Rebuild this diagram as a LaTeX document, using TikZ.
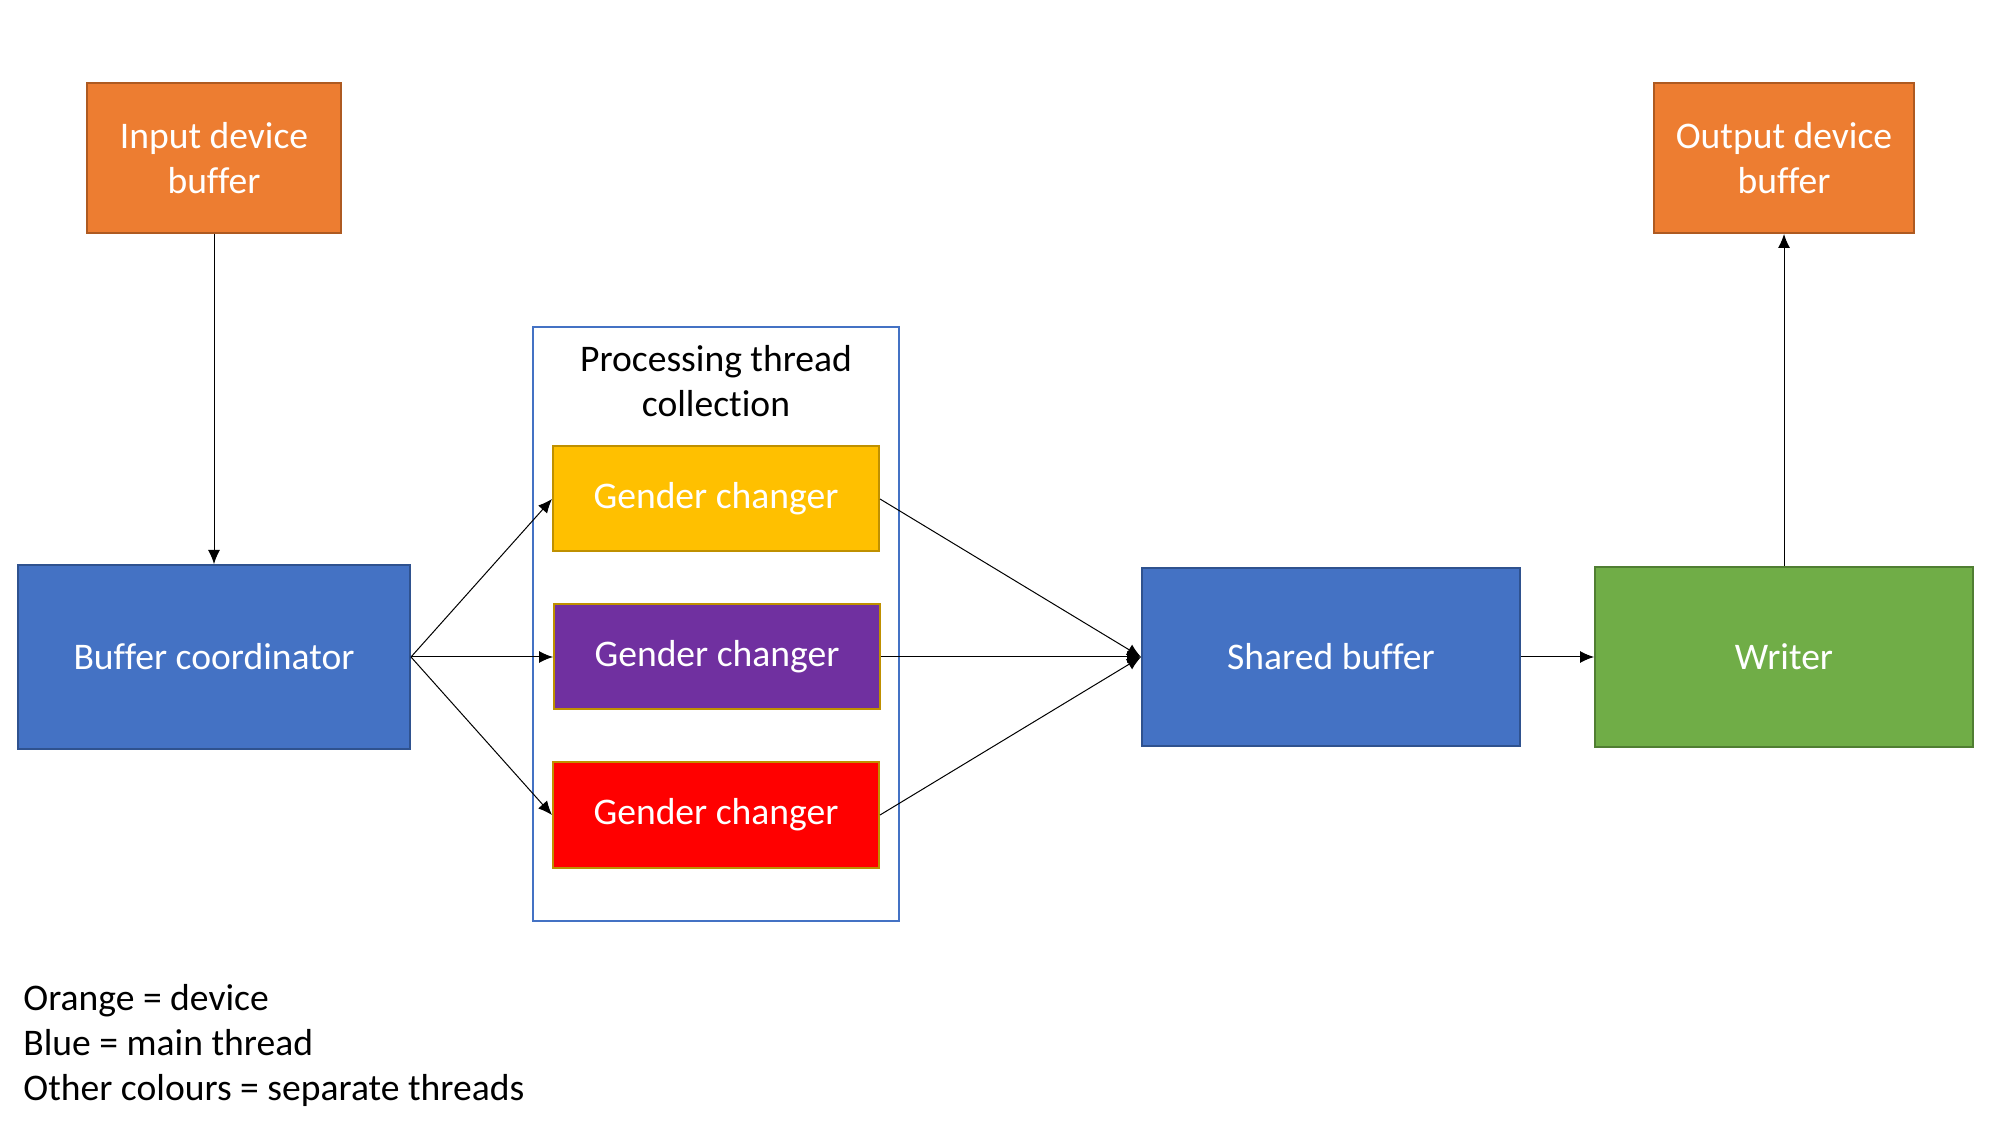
\documentclass[tikz,border=0pt]{standalone}
\usepackage{fontspec}
\setmainfont{Carlito}[Ligatures=NoCommon]
\usetikzlibrary{arrows.meta}
\definecolor{devorange}{HTML}{ED7D31}
\definecolor{devorangeb}{HTML}{AE5A21}
\definecolor{mainblue}{HTML}{4472C4}
\definecolor{mainblueb}{HTML}{2F528F}
\definecolor{thyellow}{HTML}{FFC000}
\definecolor{thgold}{HTML}{BF9000}
\definecolor{thpurple}{HTML}{7030A0}
\definecolor{thgreen}{HTML}{70AD47}
\definecolor{thgreenb}{HTML}{507E32}

\tikzset{
  blockbox/.style={draw, line width=1pt, text=white, align=center, inner sep=0pt},
  flow/.style={-{Latex[length=7pt, width=6pt]}, line width=0.5pt}
}

\begin{document}
\begin{tikzpicture}[x=0.5pt, y=-0.5pt, font=\fontsize{18.8}{22.5}\selectfont]

\useasboundingbox (0,0) rectangle (2009,1133);

\node[blockbox, fill=devorange, draw=devorangeb, minimum width=127pt, minimum height=75pt] (inbuf) at (214,158) {Input device\\buffer};
\node[blockbox, fill=devorange, draw=devorangeb, minimum width=130pt, minimum height=75pt] (outbuf) at (1784,158) {Output device\\buffer};

\node[blockbox, fill=mainblue, draw=mainblueb, minimum width=196pt, minimum height=92pt] (coord) at (214,657) {Buffer coordinator};

% thread collection
\node[draw=mainblue, line width=1pt, minimum width=183pt, minimum height=297pt] (proc) at (716,624) {};
\node[align=center, inner sep=0pt] (proctitle) at (716,381) {Processing thread\\collection};

\node[blockbox, fill=thyellow, draw=thgold, minimum width=163pt, minimum height=52.5pt] (gcone) at (716,499) {Gender changer};
\node[blockbox, fill=thpurple, draw=thgold, minimum width=163pt, minimum height=52.5pt] (gctwo) at (717,657) {Gender changer};
\node[blockbox, fill=red, draw=thgold, minimum width=163pt, minimum height=52.5pt] (gcthree) at (716,815) {Gender changer};

\node[blockbox, fill=mainblue, draw=mainblueb, minimum width=189pt, minimum height=89pt] (shared) at (1331,657) {Shared buffer};
\node[blockbox, fill=thgreen, draw=thgreenb, minimum width=189pt, minimum height=90pt] (writer) at (1784,657) {Writer};

\draw[flow] (inbuf) -- (coord);

\draw[flow] (coord.east) -- (gcone.west);
\draw[flow] (coord.east) -- (gctwo.west);
\draw[flow] (coord.east) -- (gcthree.west);

\draw[flow] (gcone.east) -- (shared.west);
\draw[flow] (gctwo.east) -- (shared.west);
\draw[flow] (gcthree.east) -- (shared.west);

\draw[flow] (shared) -- (writer);
\draw[flow] (writer) -- (outbuf);

\node[anchor=west, align=left, inner sep=0pt] (legend) at (23,1045) {Orange = device\\Blue = main thread\\Other colours = separate threads};

\end{tikzpicture}
\end{document}
